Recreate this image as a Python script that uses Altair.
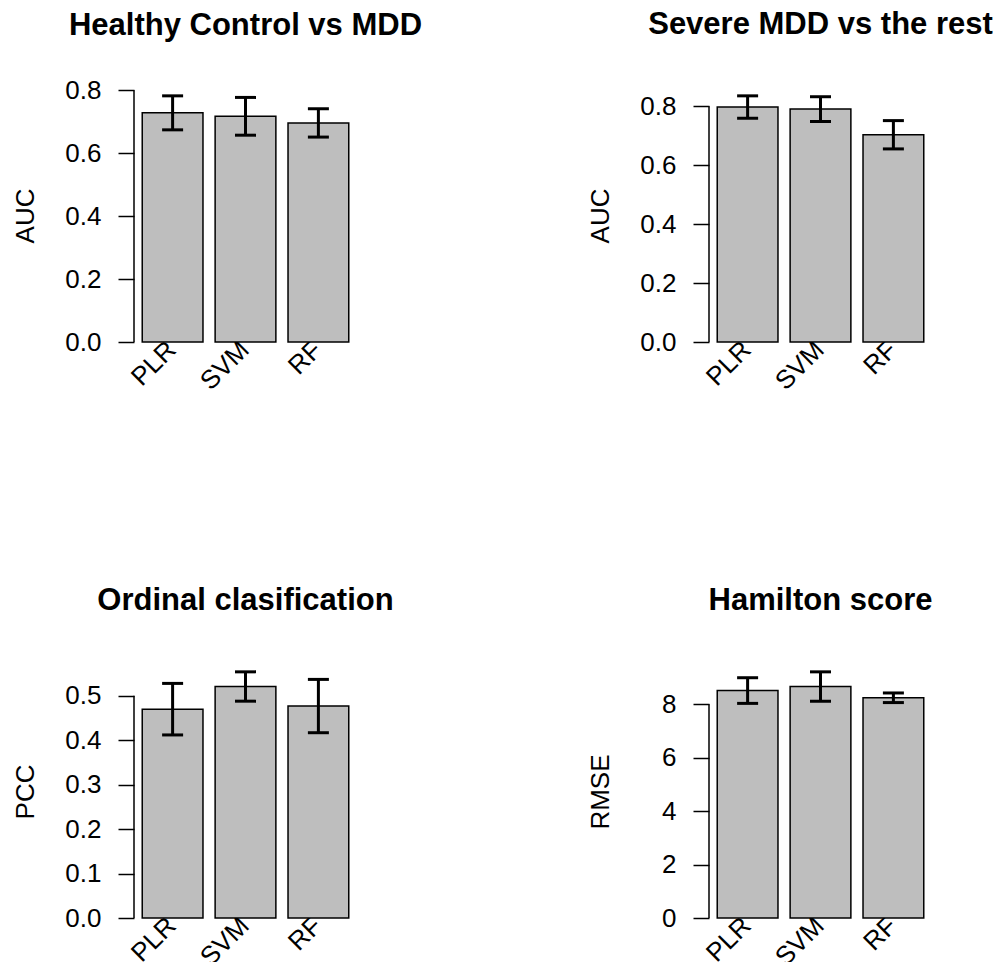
import altair as alt
import pandas as pd

models = ["PLR", "SVM", "RF"]

panel_titles = ["Healthy Control vs MDD", "Severe MDD vs the rest",
                "Ordinal clasification", "Hamilton score"]
y_titles = ["AUC", "AUC", "PCC", "RMSE"]

hc_mean = [0.728, 0.717, 0.696]
hc_err = [0.054, 0.060, 0.045]
sev_mean = [0.797, 0.790, 0.703]
sev_err = [0.038, 0.042, 0.048]
ord_mean = [0.470, 0.521, 0.477]
ord_err = [0.058, 0.033, 0.060]
ham_mean = [8.51, 8.66, 8.24]
ham_err = [0.48, 0.55, 0.18]

auc_ticks = [0.0, 0.2, 0.4, 0.6, 0.8]
pcc_ticks = [0.0, 0.1, 0.2, 0.3, 0.4, 0.5]
rmse_ticks = [0, 2, 4, 6, 8]

FONT = "Liberation Sans"
W, H = 223, 256


def panel(title, ytitle, means, errs, ticks, fmt, toff):
    df = pd.DataFrame({
        "model": models,
        "mean": means,
        "lo": [m - e for m, e in zip(means, errs)],
        "hi": [m + e for m, e in zip(means, errs)],
    })
    top = max(df["hi"]) * 1.04
    xscale = alt.Scale(paddingInner=1 / 6, paddingOuter=0.113)
    yscale = alt.Scale(domain=[0, top], nice=False)
    x_axis = alt.Axis(title=None, labelAngle=-45, labelAlign="right",
                      labelBaseline="alphabetic", labelFontSize=26,
                      labelColor="black", labelPadding=9, labelOffset=5,
                      ticks=False, tickSize=0, domain=False, grid=False)
    y_axis = alt.Axis(values=ticks, format=fmt, domain=False, grid=False,
                      tickSize=16, tickWidth=1.5, tickColor="black",
                      labelFontSize=26, labelColor="black", labelPadding=17,
                      title=ytitle, titleFontSize=26, titleFontWeight="normal",
                      titleColor="black", titleX=-109, titleY=129.5,
                      titleAngle=270, titleAlign="center",
                      titleBaseline="middle")
    xe = alt.X("model:N", sort=models, scale=xscale, axis=x_axis, title=None)

    def ye(field):
        return alt.Y(field, type="quantitative", scale=yscale, axis=y_axis,
                     title=ytitle)

    bars = alt.Chart(df).mark_bar(fill="#bebebe", stroke="black",
                                  strokeWidth=1.5).encode(x=xe, y=ye("mean"))
    err = alt.Chart(df).mark_rule(color="black", strokeWidth=3).encode(
        x=xe, y=ye("lo"), y2="hi:Q")
    cap_hi = alt.Chart(df).mark_tick(color="black", thickness=3, size=21,
                                     opacity=1).encode(x=xe, y=ye("hi"))
    cap_lo = alt.Chart(df).mark_tick(color="black", thickness=3, size=21,
                                     opacity=1).encode(x=xe, y=ye("lo"))
    axdf = pd.DataFrame({"lo": [min(ticks)], "hi": [max(ticks)]})
    axline = alt.Chart(axdf).mark_rule(color="black", strokeWidth=1.5).encode(
        x=alt.value(0), y=ye("lo"), y2="hi:Q")
    return alt.layer(bars, err, cap_hi, cap_lo, axline).properties(
        width=W, height=H,
        title=alt.TitleParams(title, fontSize=31, fontWeight="bold",
                              anchor="middle", frame="group",
                              baseline="alphabetic", offset=toff,
                              color="black"),
    )


p1 = panel(panel_titles[0], y_titles[0], hc_mean, hc_err, auc_ticks, ".1f", 11.5)
p2 = panel(panel_titles[1], y_titles[1], sev_mean, sev_err, auc_ticks, ".1f", 21.5)
p3 = panel(panel_titles[2], y_titles[2], ord_mean, ord_err, pcc_ticks, ".1f", 21.5)
p4 = panel(panel_titles[3], y_titles[3], ham_mean, ham_err, rmse_ticks, "d", 21.5)

chart = alt.concat(
    p1, p2, p3, p4, columns=2,
    spacing=alt.RowColnumber(row=320, column=352),
).properties(
    bounds="flush",
    padding={"left": 4, "top": 0, "right": 0, "bottom": 0},
).configure(font=FONT).configure_view(stroke=None)

chart.save("out.html", embed_options={"renderer": "svg", "actions": False})
